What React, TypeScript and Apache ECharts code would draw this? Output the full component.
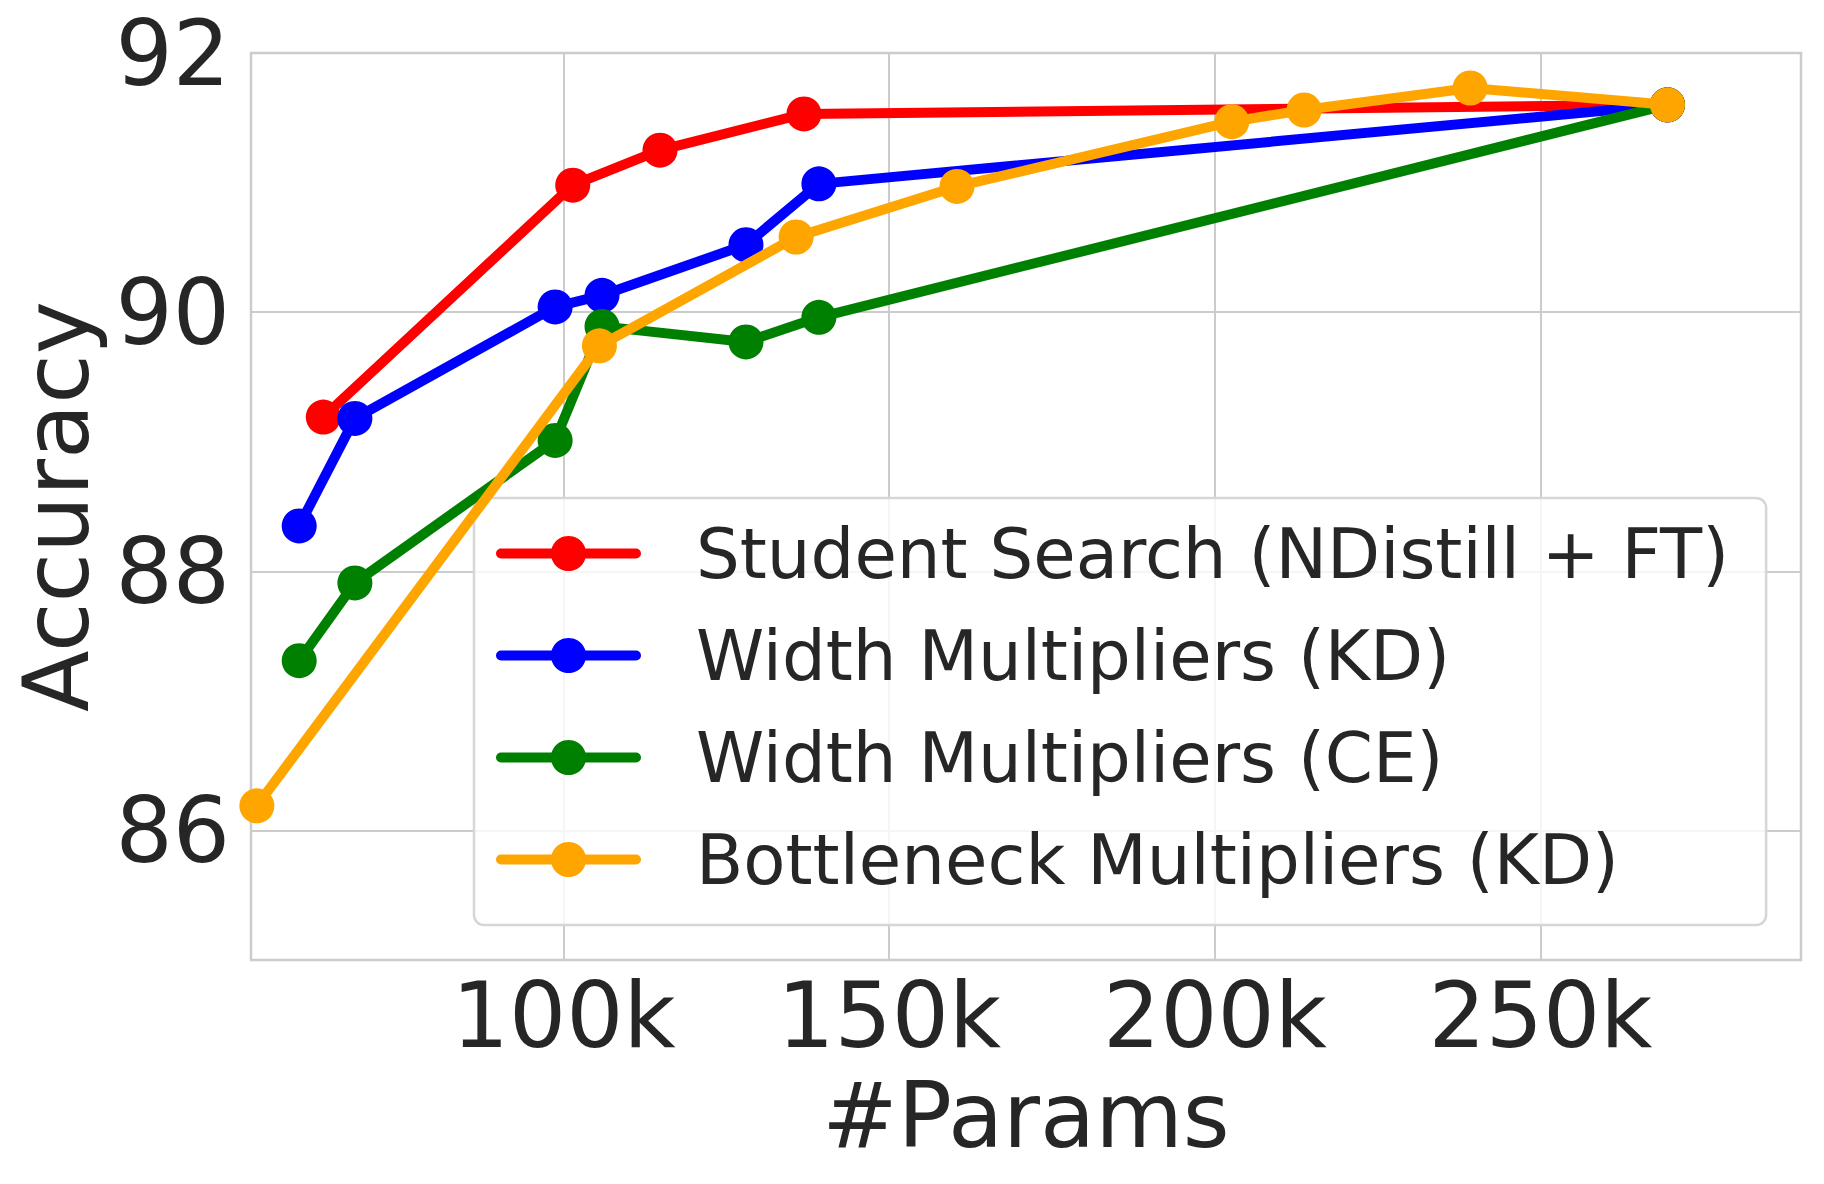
import React, { useEffect, useRef } from "react";
import * as echarts from "echarts";

const seriesNames = [
  "Student Search (NDistill + FT)",
  "Width Multipliers (KD)",
  "Width Multipliers (CE)",
  "Bottleneck Multipliers (KD)",
];
const seriesColors = ["#ff0000", "#0000ff", "#008000", "#ffa500"];

const studentParams = [63100, 101400, 114800, 136900, 269500];
const studentAcc = [89.19, 90.98, 91.25, 91.53, 91.6];

const widthKdParams = [59400, 67950, 98700, 105900, 128000, 139200, 269500];
const widthKdAcc = [88.35, 89.18, 90.04, 90.13, 90.52, 90.99, 91.6];

const widthCeParams = [59400, 67950, 98700, 105900, 128000, 139200, 269500];
const widthCeAcc = [87.31, 87.91, 89.01, 89.89, 89.77, 89.96, 91.6];

const bottleneckParams = [52900, 105500, 135700, 160400, 202600, 213700, 239200, 269500];
const bottleneckAcc = [86.19, 89.74, 90.58, 90.97, 91.47, 91.56, 91.73, 91.6];

const xMin = 52000;
const xMax = 290000;
const yMin = 85;
const yMax = 92;

const FONT = "DejaVu Sans";
const TEXT = "#262626";
const GRID = "#cccccc";

function pairs(xs: number[], ys: number[]) {
  return xs.map((x, i) => [x, ys[i]]);
}

export default function App() {
  const ref = useRef<HTMLDivElement>(null);
  useEffect(() => {
    if (!ref.current) return;
    const chart = echarts.init(ref.current, undefined, { renderer: "svg" });
    const all = [
      pairs(studentParams, studentAcc),
      pairs(widthKdParams, widthKdAcc),
      pairs(widthCeParams, widthCeAcc),
      pairs(bottleneckParams, bottleneckAcc),
    ];
    chart.setOption({
      animation: false,
      backgroundColor: "#ffffff",
      textStyle: { fontFamily: FONT, color: TEXT },
      grid: {
        left: 251,
        right: 23,
        top: 53,
        bottom: 224,
        show: true,
        borderColor: GRID,
        borderWidth: 2.5,
        backgroundColor: "transparent",
      },
      xAxis: {
        type: "value",
        min: xMin,
        max: xMax,
        splitNumber: 5,
        name: "#Params",
        nameLocation: "middle",
        nameGap: 110,
        nameTextStyle: { fontSize: 90, color: TEXT, fontFamily: FONT },
        axisLine: { show: false },
        axisTick: { show: false },
        splitLine: { show: true, lineStyle: { color: GRID, width: 2 } },
        axisLabel: {
          fontSize: 90,
          color: TEXT,
          fontFamily: FONT,
          margin: 10,
          showMinLabel: false,
          showMaxLabel: false,
          formatter: (v: number) => (v % 50000 === 0 ? v / 1000 + "k" : ""),
        },
      },
      yAxis: {
        type: "value",
        min: yMin,
        max: yMax,
        splitNumber: 3,
        name: "Accuracy",
        nameLocation: "middle",
        nameGap: 150,
        nameRotate: 90,
        nameTextStyle: { fontSize: 90, color: TEXT, fontFamily: FONT },
        axisLine: { show: false },
        axisTick: { show: false },
        splitLine: { show: true, lineStyle: { color: GRID, width: 2 } },
        axisLabel: {
          fontSize: 90,
          color: TEXT,
          fontFamily: FONT,
          margin: 21,
          padding: [7, 0, 0, 0],
          showMinLabel: false,
          formatter: (v: number) => (v % 2 === 0 ? String(v) : ""),
        },
      },
      legend: {
        orient: "vertical",
        left: 474,
        top: 498,
        itemWidth: 135,
        itemHeight: 44,
        itemGap: 33,
        padding: [21, 37, 31, 22],
        backgroundColor: "rgba(255,255,255,0.8)",
        borderColor: "#d6d6d6",
        borderWidth: 2.5,
        borderRadius: 10,
        lineStyle: { width: 10, cap: "round" },
        textStyle: {
          fontSize: 69,
          lineHeight: 69,
          color: TEXT,
          fontFamily: FONT,
          padding: [0, 0, 0, 55],
        },
        data: seriesNames,
      },
      series: seriesNames.map((name, i) => ({
        name,
        type: "line",
        data: all[i],
        symbol: "circle",
        symbolSize: 35,
        showSymbol: true,
        color: seriesColors[i],
        lineStyle: { width: 10, color: seriesColors[i], cap: "round", join: "round" },
        itemStyle: { color: seriesColors[i] },
        z: 2 + i,
      })),
    });
    return () => chart.dispose();
  }, []);
  return (
    <div
      ref={ref}
      style={{ position: "absolute", left: 0, top: 0, width: 1824, height: 1184 }}
    />
  );
}
